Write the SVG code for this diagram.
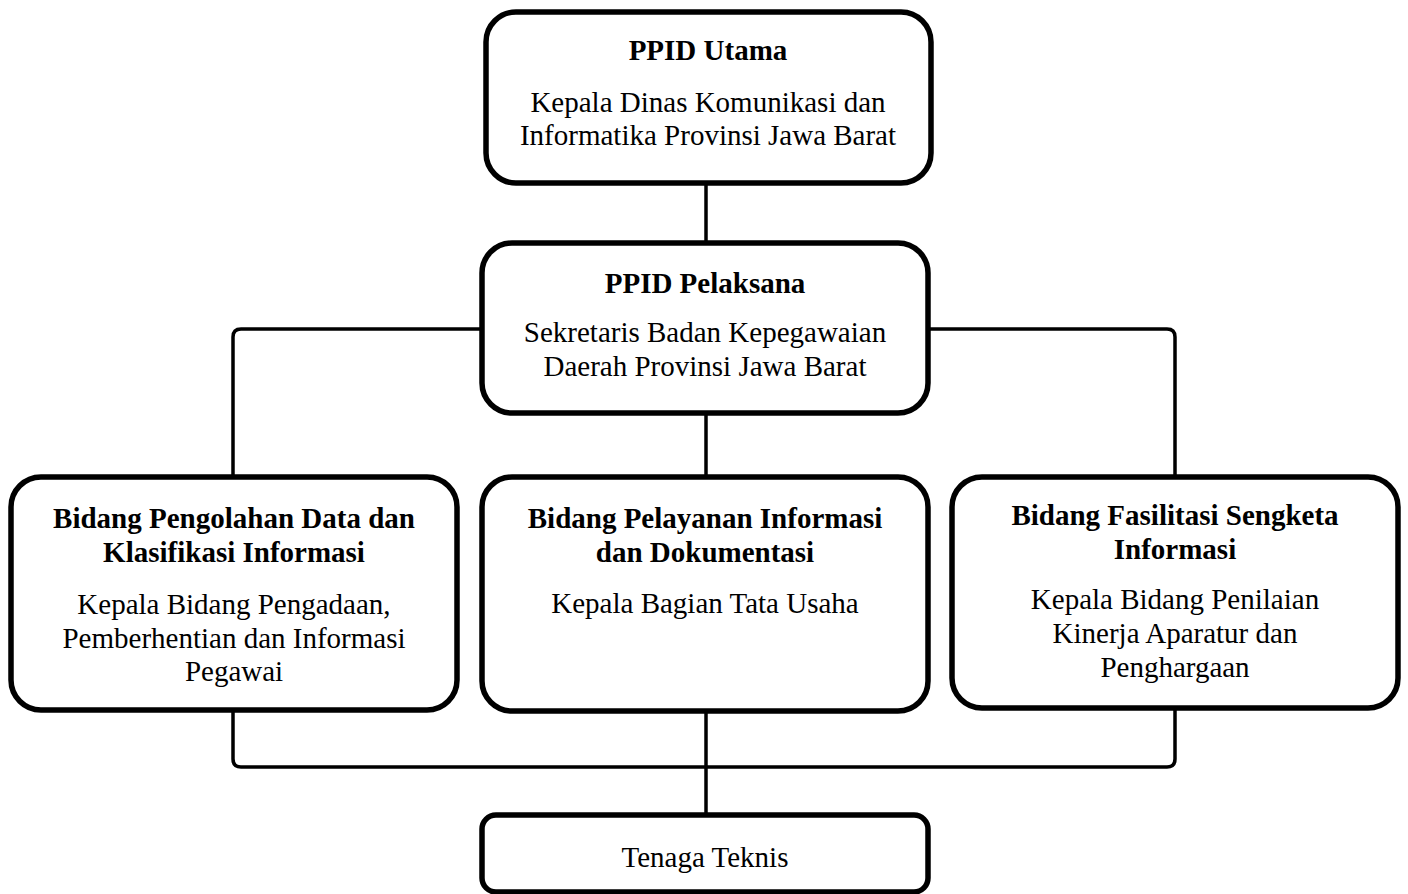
<svg xmlns="http://www.w3.org/2000/svg" width="1408" height="894" viewBox="0 0 1408 894">
<style>
.box{fill:#fff;stroke:#000;stroke-width:5.5}
.con{fill:none;stroke:#000;stroke-width:3.5}
text{font-family:"Liberation Serif","Times New Roman",serif;font-size:29px;fill:#000;text-anchor:middle}
.b{font-weight:bold}
</style>
<rect width="1408" height="894" fill="#fff"/>
<g id="connectors">
<line class="con" x1="706" y1="183" x2="706" y2="243"/>
<path class="con" d="M482,329 H241 Q233,329 233,337 V477"/>
<path class="con" d="M928,329 H1167 Q1175,329 1175,337 V477"/>
<line class="con" x1="706" y1="413" x2="706" y2="477"/>
<path class="con" d="M233,710 V759 Q233,767 241,767 H1167 Q1175,767 1175,759 V710"/>
<line class="con" x1="706" y1="712" x2="706" y2="815"/>
</g>
<g id="ppid-utama">
<rect class="box" x="486" y="12" width="445" height="171" rx="30"/>
<text class="b" x="708" y="60">PPID Utama</text>
<text x="708" y="112">Kepala Dinas Komunikasi dan</text>
<text x="708" y="145">Informatika Provinsi Jawa Barat</text>
</g>
<g id="ppid-pelaksana">
<rect class="box" x="482" y="243" width="446" height="170" rx="30"/>
<text class="b" x="705" y="293">PPID Pelaksana</text>
<text x="705" y="342">Sekretaris Badan Kepegawaian</text>
<text x="705" y="376">Daerah Provinsi Jawa Barat</text>
</g>
<g id="bidang-pengolahan">
<rect class="box" x="11" y="477" width="446" height="233" rx="30"/>
<text class="b" x="234" y="528">Bidang Pengolahan Data dan</text>
<text class="b" x="234" y="562">Klasifikasi Informasi</text>
<text x="234" y="614">Kepala Bidang Pengadaan,</text>
<text x="234" y="648">Pemberhentian dan Informasi</text>
<text x="234" y="681">Pegawai</text>
</g>
<g id="bidang-pelayanan">
<rect class="box" x="482" y="477" width="446" height="234" rx="30"/>
<text class="b" x="705" y="528">Bidang Pelayanan Informasi</text>
<text class="b" x="705" y="562">dan Dokumentasi</text>
<text x="705" y="613">Kepala Bagian Tata Usaha</text>
</g>
<g id="bidang-fasilitasi">
<rect class="box" x="952" y="477" width="446" height="231" rx="30"/>
<text class="b" x="1175" y="525">Bidang Fasilitasi Sengketa</text>
<text class="b" x="1175" y="559">Informasi</text>
<text x="1175" y="609">Kepala Bidang Penilaian</text>
<text x="1175" y="643">Kinerja Aparatur dan</text>
<text x="1175" y="677">Penghargaan</text>
</g>
<g id="tenaga-teknis">
<rect class="box" x="482" y="815" width="446" height="77" rx="14"/>
<text x="705" y="867">Tenaga Teknis</text>
</g>
</svg>
